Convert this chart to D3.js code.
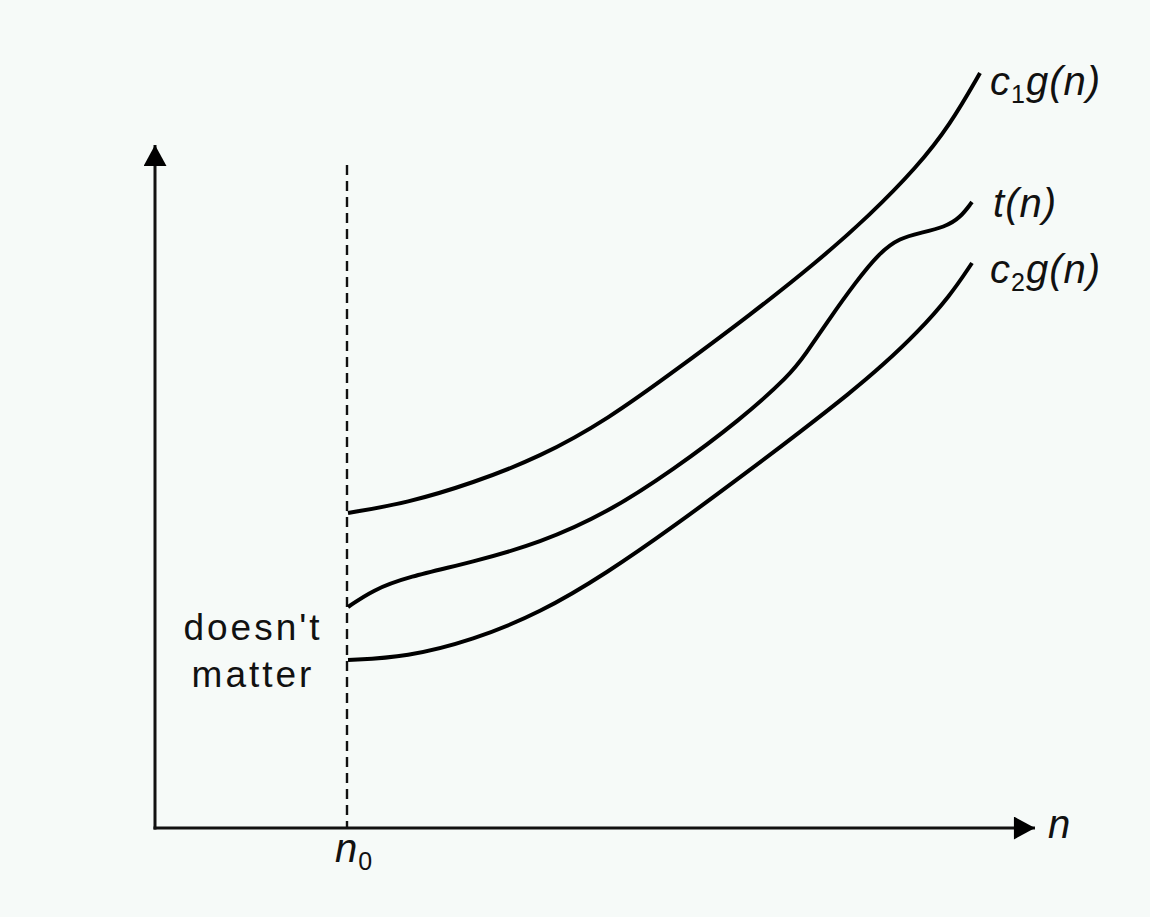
<!DOCTYPE html>
<html lang="en">
<head>
  <meta charset="UTF-8" />
  <title>Big-Theta bounds</title>
  <script src="https://d3js.org/d3.v7.min.js"></script>
  <style>
    body {
      margin: 0;
      background: #f6faf8;
    }
    svg {
      display: block;
    }
    path.curve {
      fill: none;
      stroke: #000;
      stroke-width: 4;
      stroke-linecap: butt;
    }
    line.axis {
      stroke: #111;
      stroke-width: 3;
    }
    line.cutoff {
      stroke: #111;
      stroke-width: 2.4;
      stroke-dasharray: 10 6;
    }
    text {
      font-family: "Liberation Sans", Arial, sans-serif;
      fill: #111;
    }
    text.note {
      font-size: 37px;
      letter-spacing: 3px;
    }
    text.math {
      font-size: 40px;
      font-style: italic;
      letter-spacing: 1px;
    }
  </style>
</head>
<body>

<svg></svg>

<script>
  // curve samples (abstract units)
  const c1X = [193, 252, 318, 385, 452, 525, 595, 662, 715, 762, 795, 825];
  const c1Y = [315, 325, 345, 371, 408, 461, 513, 566, 613, 661, 703, 755];

  const tX = [193, 218, 252, 318, 385, 452, 518, 585, 635, 650, 675, 700, 725, 745, 765, 790, 805, 817];
  const tY = [221, 238, 251, 266, 285, 315, 358, 408, 453, 473, 510, 545, 576, 590, 595, 601, 610, 626];

  const c2X = [193, 252, 318, 385, 452, 518, 595, 645, 695, 728, 762, 795, 817];
  const c2Y = [168, 171, 188, 215, 255, 301, 358, 396, 435, 463, 495, 532, 565];

  const n0 = 192;
  const cutoffTop = 663;

  const width = 1150;
  const height = 917;

  const svg = d3.select("svg")
    .attr("width", width)
    .attr("height", height);

  const x = d3.scaleLinear().domain([0, 880]).range([155, 1035]);
  const y = d3.scaleLinear().domain([0, 683]).range([828, 145]);

  // arrow heads
  const defs = svg.append("defs");
  defs.append("marker")
    .attr("id", "arrow")
    .attr("viewBox", "0 -6 11 12")
    .attr("refX", 11)
    .attr("refY", 0)
    .attr("orient", "auto")
    .attr("markerUnits", "userSpaceOnUse")
    .attr("markerWidth", 22)
    .attr("markerHeight", 23)
    .append("path")
    .attr("d", "M0,-6L11,0L0,6Z")
    .attr("fill", "#000");

  // axes
  svg.append("line")
    .attr("class", "axis")
    .attr("x1", x(0)).attr("y1", y(0) + 1.5)
    .attr("x2", x(0)).attr("y2", y(683))
    .attr("marker-end", "url(#arrow)");

  svg.append("line")
    .attr("class", "axis")
    .attr("x1", x(0) - 1.5).attr("y1", y(0))
    .attr("x2", x(880)).attr("y2", y(0))
    .attr("marker-end", "url(#arrow)");

  // n0 cut-off
  svg.append("line")
    .attr("class", "cutoff")
    .attr("x1", x(n0)).attr("y1", y(cutoffTop))
    .attr("x2", x(n0)).attr("y2", y(0));

  const line = d3.line()
    .x(d => x(d[0]))
    .y(d => y(d[1]))
    .curve(d3.curveBasis);

  const series = [
    { name: "c1", xs: c1X, ys: c1Y },
    { name: "t", xs: tX, ys: tY },
    { name: "c2", xs: c2X, ys: c2Y }
  ];

  svg.selectAll("path.curve")
    .data(series)
    .enter().append("path")
    .attr("class", "curve")
    .attr("d", s => line(s.xs.map((v, i) => [v, s.ys[i]])));

  // labels
  function mathLabel(px, py, base, sub, rest) {
    const t = svg.append("text").attr("class", "math").attr("x", px).attr("y", py);
    t.append("tspan").text(base);
    if (sub) {
      t.append("tspan")
        .attr("dy", 8)
        .attr("font-size", "25px")
        .attr("font-style", "normal")
        .text(sub);
      if (rest) t.append("tspan").attr("dy", -8).text(rest);
    } else {
      t.append("tspan").text(rest);
    }
    return t;
  }

  mathLabel(x(835), y(733), "c", "1", "g(n)");
  mathLabel(x(838), y(611), "t", null, "(n)");
  mathLabel(x(835), y(545), "c", "2", "g(n)");

  svg.append("text")
    .attr("class", "math")
    .attr("x", x(893))
    .attr("y", y(-10))
    .text("n");

  mathLabel(x(n0) - 12, y(-34), "n", "0", "");

  svg.append("text")
    .attr("class", "note")
    .attr("x", x(98))
    .attr("y", y(188))
    .attr("text-anchor", "middle")
    .text("doesn't");

  svg.append("text")
    .attr("class", "note")
    .attr("x", x(98))
    .attr("y", y(141))
    .attr("text-anchor", "middle")
    .text("matter");
</script>

</body>
</html>
